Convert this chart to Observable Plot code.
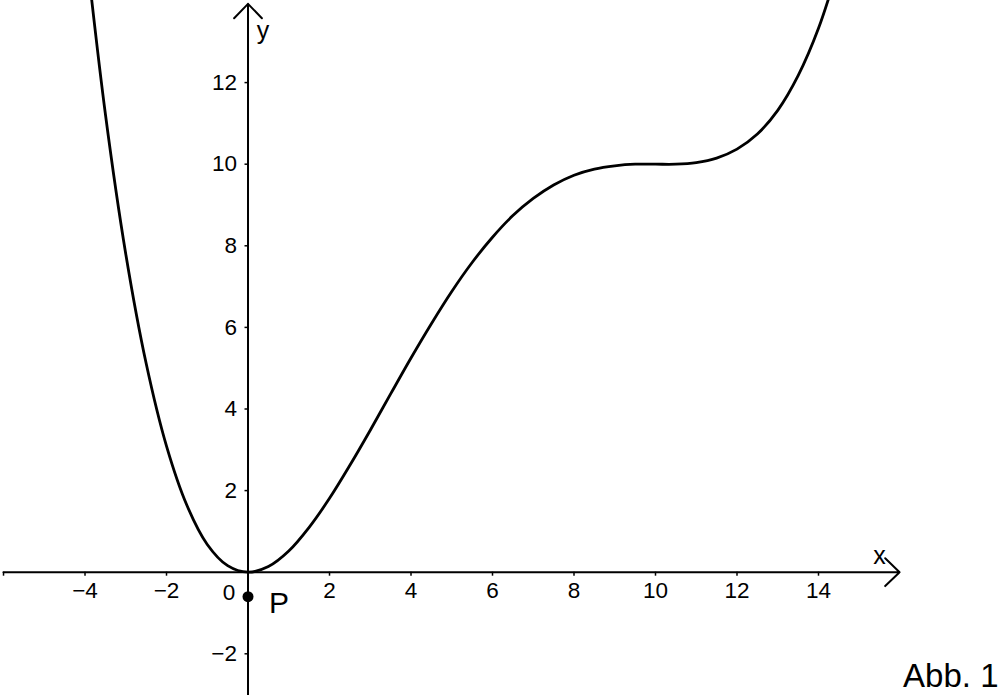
<!DOCTYPE html>
<html>
<head>
<meta charset="utf-8">
<script src="https://cdn.jsdelivr.net/npm/d3@7"></script>
<script src="https://cdn.jsdelivr.net/npm/@observablehq/plot@0.6"></script>
<style>
  html, body { margin: 0; padding: 0; background: #fff; }
  svg { display: block; }
</style>
</head>
<body>
<div id="chart"></div>
<script>
// Curve values
const curveX = [-4, -3.5, -3, -2.5, -2, -1.5, -1, -0.5, 0, 0.5, 1, 1.5, 2, 2.5, 3, 3.5, 4, 4.5, 5, 5.5, 6, 6.5, 7, 7.5, 8, 8.5, 9, 9.5, 10, 10.5, 11, 11.5, 12, 12.5, 13, 13.5, 14, 14.5];
const curveY = [15.49, 11.23, 7.80, 5.12, 3.09, 1.64, 0.68, 0.16, 0, 0.14, 0.52, 1.10, 1.81, 2.62, 3.48, 4.37, 5.25, 6.09, 6.88, 7.59, 8.21, 8.74, 9.16, 9.49, 9.73, 9.88, 9.96, 10.0, 10.0, 10.0, 10.04, 10.15, 10.37, 10.74, 11.32, 12.17, 13.33, 14.88];

// Axis ticks
const xTicks = [-6, -4, -2, 2, 4, 6, 8, 10, 12, 14];
const xTickLabels = [-4, -2, 2, 4, 6, 8, 10, 12, 14];
const yTicks = [-2, 2, 4, 6, 8, 10, 12];
const yTickLabels = [-2, 2, 4, 6, 8, 10, 12];

// Axis extents
const xAxisFrom = -6, xAxisTo = 15.99;
const yAxisFrom = -3.1, yAxisTo = 13.93;

// Point P
const pointP = [{x: 0, y: -0.6, label: "P"}];

const curve = curveX.map((x, i) => ({x, y: curveY[i]}));
const fmt = d => d < 0 ? "\u2212" + (-d) : String(d);
const FONT = "Liberation Sans, Arial, Helvetica, sans-serif";

const chart = Plot.plot({
  width: 1001,
  height: 695,
  margin: 0,
  style: {fontFamily: FONT, background: "#fff", color: "#000"},
  x: {domain: [-6.074, 18.491], axis: null},
  y: {domain: [-3.022, 14.012], axis: null},
  marks: [
    // axes with arrow heads
    Plot.arrow([{x1: xAxisFrom, y1: 0, x2: xAxisTo, y2: 0}], {x1: "x1", y1: "y1", x2: "x2", y2: "y2", stroke: "#000", strokeWidth: 2, headLength: 15, headAngle: 88}),
    Plot.arrow([{x1: 0, y1: yAxisFrom, x2: 0, y2: yAxisTo}], {x1: "x1", y1: "y1", x2: "x2", y2: "y2", stroke: "#000", strokeWidth: 2, headLength: 15, headAngle: 88}),
    // tick marks
    Plot.ruleX(xTicks, {x: d => d, y1: 0, y2: 0, insetBottom: -4, stroke: "#000", strokeWidth: 1.5}),
    Plot.ruleY(yTicks, {y: d => d, x1: 0, x2: 0, insetLeft: -3, stroke: "#000", strokeWidth: 1.5}),
    // tick labels
    Plot.text(xTickLabels, {x: d => d, y: 0, text: fmt, dy: 19, fontSize: 22.5, fill: "#000", lineAnchor: "middle"}),
    Plot.text(yTickLabels, {x: 0, y: d => d, text: fmt, dx: -11, textAnchor: "end", fontSize: 22.5, fill: "#000", lineAnchor: "middle"}),
    Plot.text(["0"], {x: 0, y: 0, text: d => d, dx: -19, dy: 21, fontSize: 22.5, fill: "#000", lineAnchor: "middle"}),
    // axis names
    Plot.text(["x"], {x: xAxisTo, y: 0, text: d => d, dx: -20, dy: -16, fontSize: 25, fill: "#000", lineAnchor: "middle"}),
    Plot.text(["y"], {x: 0, y: yAxisTo, text: d => d, dx: 15, dy: 27, fontSize: 25, fill: "#000", lineAnchor: "middle"}),
    // function graph
    Plot.line(curve, {x: "x", y: "y", curve: "catmull-rom", stroke: "#000", strokeWidth: 2.8, clip: true}),
    // point P
    Plot.dot(pointP, {x: "x", y: "y", r: 5.5, fill: "#000", stroke: "none"}),
    Plot.text(pointP, {x: "x", y: "y", text: "label", dx: 31, dy: 7, fontSize: 30, fill: "#000", lineAnchor: "middle"}),
    // caption
    Plot.text(["Abb. 1"], {frameAnchor: "bottom-right", text: d => d, dx: -3, dy: -9, fontSize: 33, fill: "#000", textAnchor: "end", lineAnchor: "bottom"})
  ]
});
document.getElementById("chart").appendChild(chart);
</script>
</body>
</html>
